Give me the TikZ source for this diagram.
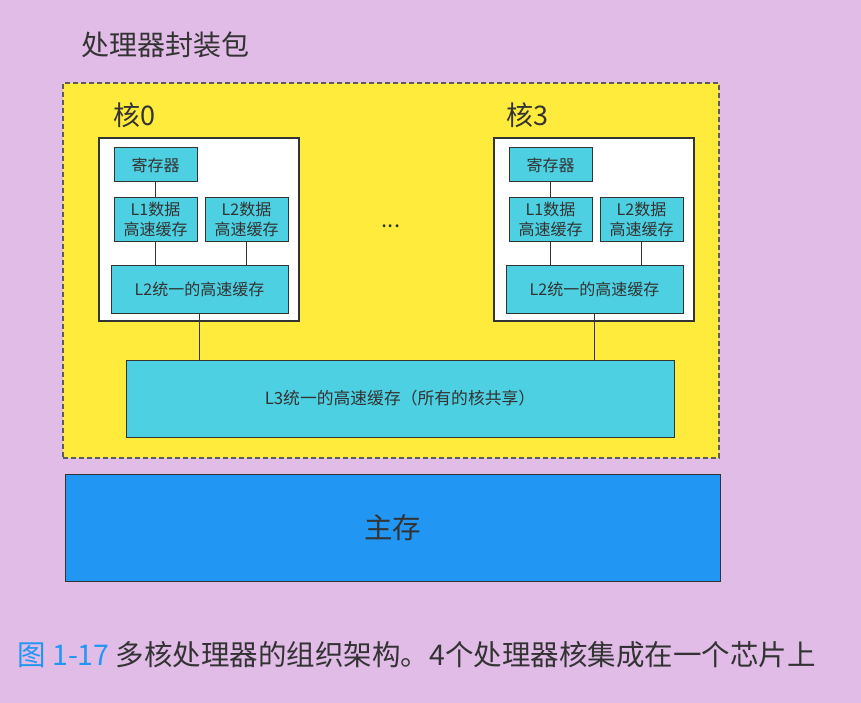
\documentclass[tikz,border=0pt]{standalone}
\usepackage{fontspec}
\setmainfont{Noto Sans CJK SC}
\usepackage{tikz}
\usepackage{xcolor}
\usetikzlibrary{positioning}

\definecolor{bgpurple}{RGB}{224,188,231}
\definecolor{pkgyellow}{RGB}{255,235,59}
\definecolor{cachecyan}{RGB}{77,208,225}
\definecolor{memblue}{RGB}{33,150,243}
\definecolor{inkgray}{RGB}{51,51,51}

\begin{document}
\begin{tikzpicture}[
    x=1pt, y=-1pt,
    every node/.style={text=inkgray, outer sep=0pt},
    package/.style={
        draw=inkgray!80, fill=pkgyellow, line width=1.2pt,
        dash pattern=on 5pt off 3pt, minimum width=656pt, minimum height=375pt
    },
    core/.style={
        draw=inkgray, fill=white, line width=2pt,
        minimum width=200pt, minimum height=183pt
    },
    cache/.style={
        draw=inkgray, fill=cachecyan, line width=1pt, align=center,
        inner sep=0pt, font=\fontsize{16}{19.5}\selectfont
    },
    small/.style={cache, minimum width=83pt, minimum height=43pt},
    heading/.style={anchor=west, font=\fontsize{27}{30}\selectfont},
    link/.style={draw=inkgray, line width=0.8pt},
]

% --- page and package ---
\fill[bgpurple] (0,0) rectangle (861,703);
\node[heading, font=\fontsize{28}{30}\selectfont] (title) at (78,45) {处理器封装包};
\node[package] (pkg) at (391,270.5) {};

% --- core 0 ---
\node[core] (core0) at (199,229.5) {};
\node[heading] (name0) at (110,115) {核0};
\node[cache, minimum width=83pt, minimum height=34pt] (reg0) at (155.5,165) {寄存器};
\node[small] (l1d0) at (155.5,219.5) {L1数据\\高速缓存};
\node[small] (l2d0) at (246.5,219.5) {L2数据\\高速缓存};
\node[cache, minimum width=177pt, minimum height=48pt] (l2u0) at (199.5,289) {L2统一的高速缓存};
\draw[link] (reg0) -- (l1d0);
\draw[link] (l1d0.south) -- (l1d0.south |- l2u0.north);
\draw[link] (l2d0.south) -- (l2d0.south |- l2u0.north);

% --- core 3 ---
\node[core] (core3) at (594,229.5) {};
\node[heading] (name3) at (503,115) {核3};
\node[cache, minimum width=83pt, minimum height=34pt] (reg3) at (550.5,165) {寄存器};
\node[small] (l1d3) at (550.5,219.5) {L1数据\\高速缓存};
\node[small] (l2d3) at (641.5,219.5) {L2数据\\高速缓存};
\node[cache, minimum width=177pt, minimum height=48pt] (l2u3) at (594.5,289) {L2统一的高速缓存};
\draw[link] (reg3) -- (l1d3);
\draw[link] (l1d3.south) -- (l1d3.south |- l2u3.north);
\draw[link] (l2d3.south) -- (l2d3.south |- l2u3.north);

\node[font=\fontsize{22}{22}\selectfont] (dots) at (391,226) {...};

% --- shared L3 and main memory ---
\node[cache, font=\fontsize{16.8}{19}\selectfont, minimum width=548pt, minimum height=77pt] (l3) at (400,398.5)
    {L3统一的高速缓存（所有的核共享）};
\draw[link] (l2u0.south) -- (l2u0.south |- l3.north);
\draw[link] (l2u3.south) -- (l2u3.south |- l3.north);

\node[draw=inkgray, fill=memblue, line width=0.8pt, minimum width=655pt, minimum height=107pt,
      font=\fontsize{28.5}{30}\selectfont] (mem) at (392.5,527.5) {主存};

% --- caption ---
\node[heading, font=\fontsize{28.5}{30}\selectfont] (caption) at (14,655)
    {\textcolor{memblue}{图 1-17} 多核处理器的组织架构。4个处理器核集成在一个芯片上};

\end{tikzpicture}
\end{document}
